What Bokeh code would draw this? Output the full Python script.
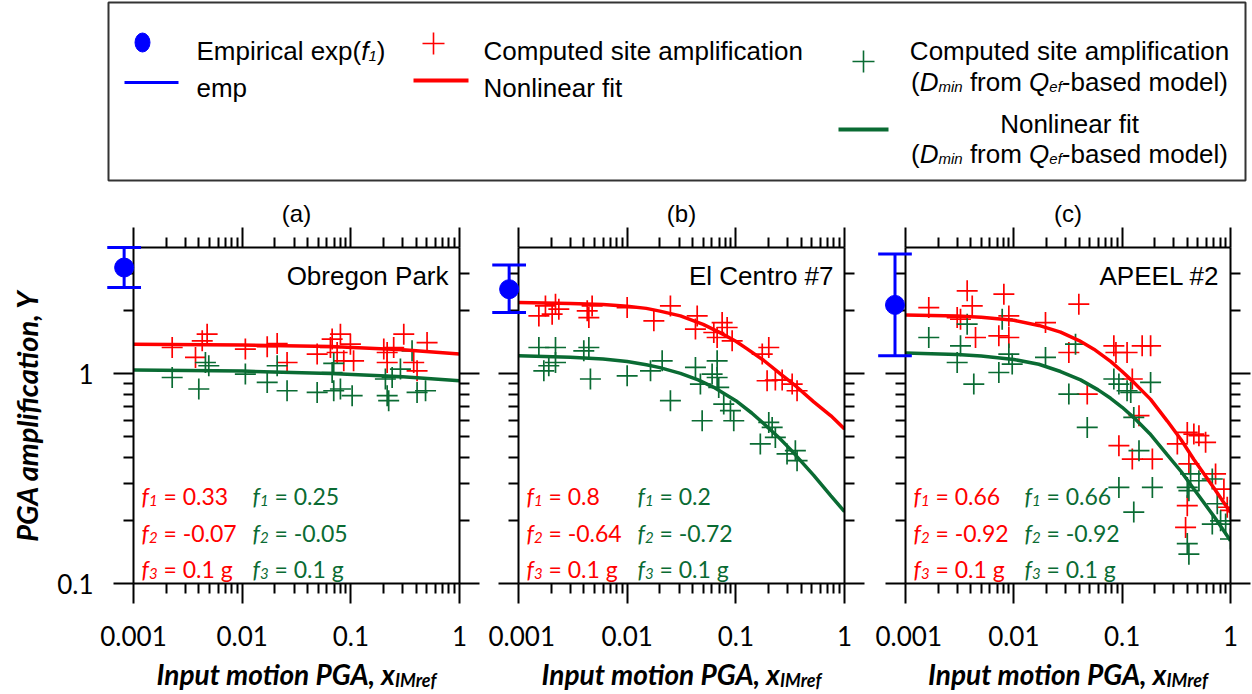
import glob, os
from bokeh.plotting import figure
from bokeh.layouts import column, row
from bokeh.models import Range1d, FixedTicker, PrintfTickFormatter, CustomJSTickFormatter, LogAxis
from bokeh.core.properties import value
from bokeh.embed import file_html
from bokeh.resources import INLINE

# ---------------- data ----------------
PANEL_TITLES = ["(a)", "(b)", "(c)"]
STATIONS = ["Obregon Park", "El Centro #7", "APEEL #2"]

# Empirical exp(f1) with its range (plotted just left of the x axis start)
EMP_X = [0.00082, 0.00082, 0.00080]
EMP_Y = [3.21, 2.53, 2.13]
EMP_LO = [2.58, 1.96, 1.22]
EMP_HI = [4.0, 3.30, 3.72]

# Panel (a) Obregon Park
A_RED_X = [0.00227, 0.00372, 0.00429, 0.00476, 0.0107, 0.0170, 0.0210, 0.0259, 0.0490, 0.0649, 0.0673,
           0.0748, 0.0802, 0.0861, 0.0991, 0.106, 0.201, 0.216, 0.216, 0.248, 0.307, 0.379, 0.407, 0.503]
A_RED_Y = [1.334, 1.196, 1.436, 1.545, 1.311, 1.345, 1.394, 1.132, 1.241, 1.334, 1.463,
           1.263, 1.545, 1.153, 1.384, 1.153, 1.311, 1.132, 1.263, 1.334, 1.545, 1.132, 1.033, 1.409]
A_GRN_X = [0.00227, 0.00399, 0.00459, 0.00493, 0.0107, 0.0170, 0.0210, 0.0259, 0.0490, 0.0673, 0.0696,
           0.0696, 0.0802, 0.1028, 0.208, 0.216, 0.223, 0.240, 0.286, 0.366, 0.407, 0.487]
A_GRN_Y = [0.960, 0.846, 1.132, 1.092, 0.997, 0.909, 1.092, 0.830, 0.815, 1.014, 0.830,
           1.120, 0.846, 0.786, 0.944, 0.786, 0.744, 0.960, 1.053, 1.287, 0.815, 0.830]
A_FIT_RED_X = [0.001, 0.01, 0.065, 0.3, 1.0]
A_FIT_RED_Y = [1.384, 1.372, 1.349, 1.301, 1.241]
A_FIT_GRN_X = [0.001, 0.01, 0.065, 0.3, 1.0]
A_FIT_GRN_Y = [1.041, 1.030, 1.003, 0.968, 0.926]
A_F_RED = ["0.33", "-0.07", "0.1 g"]
A_F_GRN = ["0.25", "-0.05", "0.1 g"]

# Panel (b) El Centro #7
B_RED_X = [0.00154, 0.00177, 0.00204, 0.00219, 0.00235, 0.00429, 0.00444, 0.00476, 0.0100, 0.0176, 0.0250,
           0.0441, 0.0425, 0.0627, 0.0673, 0.0748, 0.0832, 0.0925, 0.175, 0.201, 0.194, 0.231, 0.267,
           0.330, 0.366]
B_RED_Y = [1.888, 2.107, 1.924, 2.147, 2.033, 1.995, 1.854, 2.107, 2.069, 1.788, 2.107,
           1.888, 1.633, 1.573, 1.489, 1.755, 1.662, 1.436, 1.241, 1.334, 0.926, 0.933, 0.933,
           0.893, 0.830]
B_GRN_X = [0.00154, 0.00219, 0.00171, 0.00219, 0.00190, 0.00399, 0.00444, 0.00459, 0.0100, 0.0164, 0.0210,
           0.0250, 0.0425, 0.0472, 0.0490, 0.0605, 0.0673, 0.0673, 0.0696, 0.0774, 0.0892, 0.0957, 0.168,
           0.201, 0.216, 0.231, 0.296, 0.353, 0.366]
B_GRN_Y = [1.334, 1.334, 1.033, 1.132, 1.092, 1.287, 1.334, 0.944, 0.978, 1.033, 1.153,
           0.744, 1.072, 0.893, 0.597, 0.997, 1.153, 0.960, 0.861, 0.717, 0.667, 0.597, 0.463,
           0.586, 0.555, 0.497, 0.415, 0.430, 0.385]
B_FIT_RED_X = [0.001, 0.003, 0.006, 0.01, 0.015, 0.02, 0.0309, 0.05, 0.07, 0.1, 0.127, 0.18, 0.257, 0.36,
               0.521, 0.75, 1.0]
B_FIT_RED_Y = [2.185, 2.165, 2.14, 2.10, 2.05, 1.99, 1.888, 1.72, 1.58, 1.43, 1.315, 1.16, 1.0, 0.87,
               0.735, 0.63, 0.545]
B_FIT_GRN_X = [0.001, 0.003, 0.006, 0.01, 0.015, 0.02, 0.0309, 0.045, 0.0627, 0.1, 0.14, 0.181, 0.25,
               0.318, 0.521, 0.75, 1.0]
B_FIT_GRN_Y = [1.22, 1.20, 1.175, 1.145, 1.105, 1.07, 1.005, 0.935, 0.862, 0.744, 0.65, 0.578, 0.495,
               0.436, 0.328, 0.262, 0.22]
B_F_RED = ["0.8", "-0.64", "0.1 g"]
B_F_GRN = ["0.2", "-0.72", "0.1 g"]

# Panel (c) APEEL #2
C_RED_X = [0.00164, 0.00371, 0.00413, 0.00300, 0.00322, 0.00443, 0.00809, 0.00899, 0.00727, 0.00899, 0.0196,
           0.0322, 0.0398, 0.0476, 0.0838, 0.0876, 0.111, 0.153, 0.183, 0.124, 0.143, 0.0933, 0.124,
           0.190, 0.323, 0.399, 0.459, 0.511, 0.589, 0.413, 0.399, 0.385, 0.728, 0.869, 0.933, 1.0]
C_RED_Y = [2.069, 2.486, 2.107, 1.854, 1.82, 1.489, 2.396, 1.888, 1.517, 1.489, 1.755,
           1.263, 2.147, 0.800, 1.359, 1.263, 1.263, 1.359, 1.359, 0.944, 0.631, 0.454, 0.392,
           0.392, 0.463, 0.525, 0.516, 0.507, 0.471, 0.372, 0.235, 0.185, 0.333, 0.282, 0.231, 0.223]
C_GRN_X = [0.00164, 0.00300, 0.00322, 0.00371, 0.00427, 0.00781, 0.00727, 0.00899, 0.00966, 0.0196, 0.0322,
           0.0371, 0.0476, 0.0838, 0.0933, 0.111, 0.183, 0.128, 0.120, 0.143, 0.0933, 0.190, 0.128,
           0.428, 0.399, 0.511, 0.679, 0.755, 0.679, 0.902, 0.413, 0.399, 0.413, 0.81, 1.0]
C_GRN_Y = [1.489, 1.132, 1.359, 1.724, 0.893, 1.822, 1.014, 1.241, 1.112, 1.196, 0.800,
           1.384, 0.555, 0.944, 0.893, 0.830, 0.909, 0.619, 0.815, 0.430, 0.287, 0.287, 0.219,
           0.333, 0.287, 0.309, 0.315, 0.240, 0.192, 0.192, 0.277, 0.155, 0.138, 0.199, 0.163]
C_FIT_RED_X = [0.001, 0.003, 0.005, 0.01, 0.017, 0.027, 0.04, 0.0548, 0.0782, 0.1, 0.128, 0.183, 0.261,
               0.35, 0.459, 0.703, 1.0]
C_FIT_RED_Y = [1.904, 1.885, 1.86, 1.80, 1.70, 1.58, 1.44, 1.31, 1.145, 1.025, 0.91, 0.755, 0.595,
               0.485, 0.39, 0.285, 0.218]
C_FIT_GRN_X = [0.001, 0.003, 0.005, 0.01, 0.017, 0.027, 0.0413, 0.06, 0.0782, 0.1, 0.128, 0.18, 0.261,
               0.35, 0.459, 0.703, 1.0]
C_FIT_GRN_Y = [1.255, 1.235, 1.215, 1.17, 1.11, 1.025, 0.935, 0.838, 0.764, 0.692, 0.618, 0.518, 0.41,
               0.342, 0.282, 0.209, 0.160]
C_F_RED = ["0.66", "-0.92", "0.1 g"]
C_F_GRN = ["0.66", "-0.92", "0.1 g"]

X_TICKS = [0.001, 0.01, 0.1, 1]
Y_TICKS = [0.1, 1]
X_MIN, X_MAX = 0.001, 1.0
Y_MIN, Y_MAX = 0.1, 4.0

# ---------------- styling ----------------
RED = "#ff0000"
GREEN = "#0a6b33"
BLUE = "#0000ff"
LS = "Liberation Sans"
LATO = "Lato"
NBSP = "\u00a0"

FONT_FILES = {
    (LS, "normal"): "LiberationSans-Regular.ttf",
    (LS, "italic"): "LiberationSans-Italic.ttf",
    (LATO, "normal"): "Lato-Regular.ttf",
    (LATO, "italic"): "Lato-Italic.ttf",
    (LATO, "bold italic"): "Lato-BoldItalic.ttf",
}
_paths = {}


def font_path(fname):
    if fname not in _paths:
        hits = []
        for root in ["/usr/share/fonts", "/usr/local/share/fonts",
                     os.path.expanduser("~/.fonts"), os.path.expanduser("~/.local/share/fonts")]:
            hits += glob.glob(os.path.join(root, "**", fname), recursive=True)
        _paths[fname] = hits[0] if hits else None
    return _paths[fname]


def text_width(text, fam, sty, size):
    try:
        from PIL import ImageFont
        path = font_path(FONT_FILES[(fam, sty)])
        if path:
            return ImageFont.truetype(path, size).getlength(text)
    except Exception:
        pass
    return 0.55 * size * len(text)


def rich(p, x, y, x0, y0, parts, color, align="left"):
    parts = [(t.replace(" ", NBSP), fam, sty, sz, dy) for (t, fam, sty, sz, dy) in parts]
    widths = [text_width(t, fam, sty, sz) for (t, fam, sty, sz, dy) in parts]
    total = sum(widths)
    off = x0 - (total / 2 if align == "center" else (total if align == "right" else 0))
    for (t, fam, sty, sz, dy), w in zip(parts, widths):
        p.text(x=[x], y=[y], text=[t], x_offset=off, y_offset=y0 + dy,
               text_font=value(fam), text_font_style=sty, text_font_size=value(f"{sz}px"),
               text_color=color, text_align="left", text_baseline="alphabetic", level="overlay")
        off += w


def style_axis(ax, ticker, labels):
    ax.ticker = ticker
    ax.axis_line_color = "black"
    ax.axis_line_width = 2
    ax.major_tick_line_color = "black"
    ax.major_tick_line_width = 2
    ax.minor_tick_line_color = "black"
    ax.minor_tick_line_width = 2
    ax.major_tick_in = 0
    ax.major_tick_out = 20
    ax.minor_tick_in = 0
    ax.minor_tick_out = 10
    if labels:
        ax.formatter = PrintfTickFormatter(format="%g")
        ax.major_label_text_font = LATO
        ax.major_label_text_font_size = "26px"
        ax.major_label_text_color = "black"
    else:
        ax.formatter = CustomJSTickFormatter(code="return ''")
        ax.major_label_standoff = 0
        ax.major_label_text_font_size = "1px"


def x_ticker():
    minor = [m * 10.0 ** e for e in (-3, -2, -1) for m in range(2, 10)]
    return FixedTicker(ticks=X_TICKS, minor_ticks=minor)


def y_ticker():
    minor = [m / 10 for m in range(2, 10)] + [2, 3]
    return FixedTicker(ticks=Y_TICKS, minor_ticks=minor)


def make_panel(i, width, bl, br, red_x, red_y, grn_x, grn_y, frx, fry, fgx, fgy, f_red, f_grn, first):
    p = figure(width=width, height=508, x_axis_type="log", y_axis_type="log",
               x_range=Range1d(X_MIN, X_MAX), y_range=Range1d(Y_MIN, Y_MAX),
               output_backend="svg", toolbar_location=None, title=PANEL_TITLES[i],
               min_border_left=bl, min_border_right=br, min_border_top=61, min_border_bottom=111)
    p.grid.visible = False
    p.outline_line_color = None
    p.background_fill_color = "white"
    p.border_fill_color = "white"
    p.title.align = "center"
    p.title.text_font = LS
    p.title.text_font_size = "24px"
    p.title.text_font_style = "normal"
    p.title.text_color = "black"
    p.title.standoff = 2

    p.add_layout(LogAxis(), "above")
    p.add_layout(LogAxis(), "right")
    bottom, top, left, right = p.below[0], p.above[0], p.left[0], p.right[0]
    style_axis(bottom, x_ticker(), True)
    bottom.major_label_standoff = 22
    style_axis(top, x_ticker(), False)
    style_axis(left, y_ticker(), first)
    if first:
        left.major_label_standoff = 20
        left.axis_label = "PGA amplification, Y"
        left.axis_label_text_font = LATO
        left.axis_label_text_font_style = "bold italic"
        left.axis_label_text_font_size = "29px"
        left.axis_label_text_color = "black"
        left.axis_label_standoff = 10
    style_axis(right, y_ticker(), False)

    # computed points
    p.scatter(red_x, red_y, marker="cross", size=21, line_color=RED, line_width=1.7)
    p.scatter(grn_x, grn_y, marker="cross", size=21, line_color=GREEN, line_width=1.7)
    # nonlinear fits
    p.line(frx, fry, line_color=RED, line_width=3.5)
    p.line(fgx, fgy, line_color=GREEN, line_width=3.5)

    # empirical value with its range
    ex, ey, lo, hi = EMP_X[i], EMP_Y[i], EMP_LO[i], EMP_HI[i]
    cap = 1.43
    p.segment(x0=[ex], y0=[lo], x1=[ex], y1=[hi], line_color=BLUE, line_width=3, level="overlay")
    p.segment(x0=[ex / cap, ex / cap], y0=[lo, hi], x1=[ex * cap, ex * cap], y1=[lo, hi],
              line_color=BLUE, line_width=3, level="overlay")
    p.scatter([ex], [ey], marker="circle", size=19, fill_color=BLUE, line_color=BLUE, level="overlay")

    # station name
    p.text(x=[X_MAX], y=[Y_MAX], text=[STATIONS[i]], x_offset=-11, y_offset=28,
           text_font=value(LS), text_font_size=value("26px"), text_color="black",
           text_align="right", text_baseline="alphabetic", level="overlay")

    # fit coefficients
    rows_dy = [-88, -51, -15]
    for k in range(3):
        for col_x, vals, color in ((8, f_red, RED), (119, f_grn, GREEN)):
            rich(p, X_MIN, Y_MIN, col_x, rows_dy[k],
                 [("f", LATO, "italic", 23, 0), (str(k + 1), LATO, "italic", 15, 5),
                  (" = " + vals[k], LATO, "normal", 23, 0)], color)

    # x axis title with subscript
    frame_w = width - bl - br
    rich(p, X_MIN, Y_MIN, frame_w / 2, 90,
         [("Input motion PGA, x", LATO, "bold italic", 28, 0), ("IMref", LATO, "bold italic", 18, 6)],
         "black", align="center")
    return p


pa = make_panel(0, 488, 133, 29, A_RED_X, A_RED_Y, A_GRN_X, A_GRN_Y, A_FIT_RED_X, A_FIT_RED_Y,
                A_FIT_GRN_X, A_FIT_GRN_Y, A_F_RED, A_F_GRN, True)
pb = make_panel(1, 387, 30, 31, B_RED_X, B_RED_Y, B_GRN_X, B_GRN_Y, B_FIT_RED_X, B_FIT_RED_Y,
                B_FIT_GRN_X, B_FIT_GRN_Y, B_F_RED, B_F_GRN, False)
pc = make_panel(2, 377, 30, 22, C_RED_X, C_RED_Y, C_GRN_X, C_GRN_Y, C_FIT_RED_X, C_FIT_RED_Y,
                C_FIT_GRN_X, C_FIT_GRN_Y, C_F_RED, C_F_GRN, False)

# ---------------- legend box ----------------
LW, LH = 1137, 178
lg = figure(width=1252, height=186, x_range=Range1d(0, LW), y_range=Range1d(0, LH),
            output_backend="svg", toolbar_location=None, x_axis_location=None, y_axis_location=None,
            min_border_left=108, min_border_right=7, min_border_top=2, min_border_bottom=6)
lg.grid.visible = False
lg.outline_line_color = "#333333"
lg.outline_line_width = 2


def ly(v):
    return LH - v


lg.ellipse(x=[34], y=[ly(40)], width=15, height=19, fill_color=BLUE, line_color=BLUE)
rich(lg, 88, ly(48), 0, 0, [("Empirical exp(", LS, "normal", 26, 0), ("f", LS, "italic", 26, 0),
                            ("1", LS, "italic", 15, 5), (")", LS, "normal", 26, 0)], "black")
lg.segment(x0=[16], y0=[ly(80)], x1=[70], y1=[ly(80)], line_color=BLUE, line_width=3)
rich(lg, 88, ly(85), 0, 0, [("emp", LS, "normal", 26, 0)], "black")

lg.scatter([325], [ly(41)], marker="cross", size=22, line_color=RED, line_width=1.6)
rich(lg, 375, ly(48), 0, 0, [("Computed site amplification", LS, "normal", 26, 0)], "black")
lg.segment(x0=[305], y0=[ly(78)], x1=[360], y1=[ly(78)], line_color=RED, line_width=4)
rich(lg, 375, ly(85), 0, 0, [("Nonlinear fit", LS, "normal", 26, 0)], "black")

DMIN = [("(", LS, "normal", 26, 0), ("D", LS, "italic", 26, 0), ("min", LS, "italic", 15, 5),
        (" from ", LS, "normal", 26, 0), ("Q", LS, "italic", 26, 0), ("ef", LS, "italic", 15, 5),
        ("-based model)", LS, "normal", 26, 0)]
lg.scatter([755], [ly(59)], marker="cross", size=22, line_color=GREEN, line_width=1.6)
rich(lg, 961, ly(48), 0, 0, [("Computed site amplification", LS, "normal", 26, 0)], "black", align="center")
rich(lg, 961, ly(79), 0, 0, DMIN, "black", align="center")
lg.segment(x0=[730], y0=[ly(127)], x1=[780], y1=[ly(127)], line_color=GREEN, line_width=4)
rich(lg, 961, ly(121), 0, 0, [("Nonlinear fit", LS, "normal", 26, 0)], "black", align="center")
rich(lg, 961, ly(151), 0, 0, DMIN, "black", align="center")

layout = column(lg, row(pa, pb, pc))
open("out.html", "w").write(file_html(layout, INLINE))
